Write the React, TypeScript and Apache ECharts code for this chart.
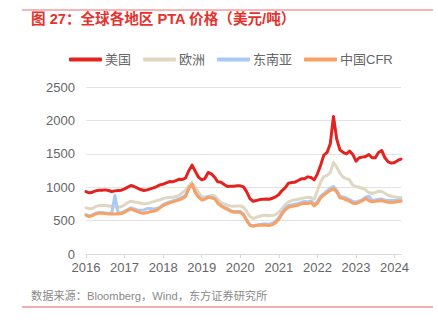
import React, { useEffect, useRef } from "react";
import * as echarts from "echarts";

const startYear = 2016;
const monthCount = 99; // 2016-01 .. 2024-03
const months: string[] = [];
for (let i = 0; i < monthCount; i++) {
  const y = startYear + Math.floor(i / 12);
  const m = (i % 12) + 1;
  months.push(`${y}-${m < 10 ? "0" + m : m}`);
}

const seriesNames = ["美国", "欧洲", "东南亚", "中国CFR"];

const usa = [
  935, 915, 925, 945, 955, 955, 960, 950, 935, 945, 950, 955,
  975, 1000, 1025, 1010, 985, 965, 950, 960, 975, 990, 1010, 1035,
  1045, 1065, 1085, 1080, 1100, 1120, 1115, 1140, 1250, 1330, 1240, 1150,
  1110, 1130, 1220, 1200, 1150, 1080, 1075, 1040, 1010, 1015, 1015, 1020,
  1020, 1005, 930, 830, 790, 800, 815, 820, 825, 820, 835, 855,
  890, 950, 995, 1060, 1070, 1075, 1100, 1125, 1125, 1155, 1145, 1110,
  1200, 1330, 1480, 1520, 1650, 2060, 1720, 1560, 1520, 1500, 1540, 1490,
  1390, 1440, 1450, 1460, 1490, 1440, 1440, 1520, 1550, 1440, 1380, 1360,
  1370, 1400, 1420,
];

const europe = [
  690, 680, 680, 710, 725, 725, 725, 720, 715, 705, 700, 710,
  735, 770, 790, 780, 770, 760, 750, 755, 770, 785, 800, 810,
  830, 840, 850, 850, 860, 880, 920, 960, 1020, 1075, 1000, 920,
  860, 850, 860, 880, 870, 820, 770, 750, 730, 720, 715, 720,
  720, 700, 640, 560, 530, 550, 565, 575, 580, 575, 575, 590,
  630, 680, 740, 780, 800, 810, 820, 830, 840, 850, 845, 820,
  950, 1080, 1160, 1175, 1220, 1370, 1300, 1210, 1150, 1130, 1110, 1030,
  1010, 1000, 985, 960, 920, 905, 920, 940, 935, 910, 880, 865,
  855, 845, 845,
];

const seAsia = [
  590, 570, 585, 610, 620, 620, 615, 610, 615, 875, 615, 615,
  640, 665, 690, 675, 660, 655, 660, 680, 680, 675, 680, 700,
  740, 760, 780, 795, 810, 830, 850, 880, 990, 1045, 930, 860,
  820, 830, 860, 850, 835, 770, 730, 700, 680, 650, 635, 635,
  635, 595, 510, 440, 425, 435, 440, 450, 450, 445, 460, 490,
  545, 625, 685, 725, 735, 745, 755, 775, 785, 780, 795, 745,
  785, 865, 905, 945, 985, 1010, 955, 865, 855, 835, 815, 785,
  780, 795, 815, 850, 865, 805, 810, 820, 825, 805, 800, 800,
  800, 805, 810,
];

const chinaCfr = [
  580, 560, 575, 600, 610, 610, 605, 600, 600, 600, 600, 605,
  625, 655, 675, 655, 635, 615, 610, 620, 635, 640, 655, 690,
  725, 745, 765, 780, 795, 810, 830, 860, 980, 1040, 920, 850,
  810, 820, 850, 840, 825, 760, 720, 690, 670, 640, 625, 625,
  625, 585, 500, 430, 415, 425, 430, 435, 430, 425, 440, 470,
  520, 600, 660, 700, 710, 720, 730, 750, 760, 755, 770, 720,
  760, 840, 880, 920, 950, 975, 930, 840, 830, 810, 790, 760,
  755, 775, 795, 830, 800, 780, 790, 795, 800, 785, 775, 770,
  775, 785, 790,
];

const yTicks = [0, 500, 1000, 1500, 2000, 2500];

const colors = ["#e3231f", "#e0d7c3", "#a9c9f6", "#f8a162"];
const FONT = "'Liberation Sans', 'Noto Sans CJK SC', sans-serif";

export default function App() {
  const ref = useRef<HTMLDivElement>(null);
  useEffect(() => {
    if (!ref.current) return;
    const chart = echarts.init(ref.current, undefined, { renderer: "svg" });
    const data = [usa, europe, seAsia, chinaCfr];
    chart.setOption({
      animation: false,
      backgroundColor: "#ffffff",
      textStyle: { fontFamily: FONT },
      graphic: [
        {
          type: "line",
          shape: { x1: 22, y1: 10, x2: 433, y2: 10 },
          style: { stroke: "#ee6b6b", lineWidth: 1 },
        },
        {
          type: "text",
          left: 31,
          top: 12,
          style: {
            text: "图 27：全球各地区 PTA 价格（美元/吨）",
            fill: "#e5322d",
            font: `bold 14.6px ${FONT}`,
          },
        },
        {
          type: "text",
          left: 31,
          top: 290,
          style: {
            text: "数据来源：Bloomberg，Wind，东方证券研究所",
            fill: "#8a8a8a",
            font: `11.2px ${FONT}`,
          },
        },
        {
          type: "line",
          shape: { x1: 22, y1: 307, x2: 433, y2: 307 },
          style: { stroke: "#e06060", lineWidth: 1 },
        },
      ],
      legend: {
        left: 64,
        top: 48,
        itemWidth: 33,
        itemHeight: 4,
        itemGap: 12,
        icon: "roundRect",
        textStyle: { color: "#666", fontSize: 13, fontFamily: FONT, padding: [0, 0, 0, -2] },
        data: seriesNames,
      },
      grid: { left: 86, right: 37, top: 87, bottom: 68, containLabel: false },
      xAxis: {
        type: "category",
        data: months,
        boundaryGap: false,
        axisLine: { lineStyle: { color: "#d9d9d9", width: 1 } },
        axisTick: {
          show: true,
          length: 4,
          interval: (i: number) => i % 12 === 0,
          lineStyle: { color: "#d9d9d9" },
        },
        axisLabel: {
          interval: (i: number) => i % 12 === 0,
          formatter: (v: string) => v.slice(0, 4),
          color: "#666",
          fontSize: 13,
          margin: 7,
          fontFamily: FONT,
        },
        splitLine: { show: false },
      },
      yAxis: {
        type: "value",
        min: yTicks[0],
        max: yTicks[yTicks.length - 1],
        interval: 500,
        axisLine: { show: false },
        axisTick: { show: false },
        axisLabel: {
          color: "#666",
          fontSize: 13,
          margin: 11,
          fontFamily: FONT,
          formatter: (v: number) => String(v),
        },
        splitLine: { lineStyle: { color: "#e3e3e3", width: 1 } },
      },
      series: seriesNames.map((name, i) => ({
        name,
        type: "line",
        data: data[i],
        showSymbol: false,
        symbol: "none",
        lineStyle: { width: 3, color: colors[i], cap: "round", join: "round" },
        itemStyle: { color: colors[i] },
        z: 2 + i,
      })),
    });
    return () => chart.dispose();
  }, []);
  return (
    <div
      ref={ref}
      style={{ position: "absolute", left: 0, top: 0, width: 438, height: 322 }}
    />
  );
}
